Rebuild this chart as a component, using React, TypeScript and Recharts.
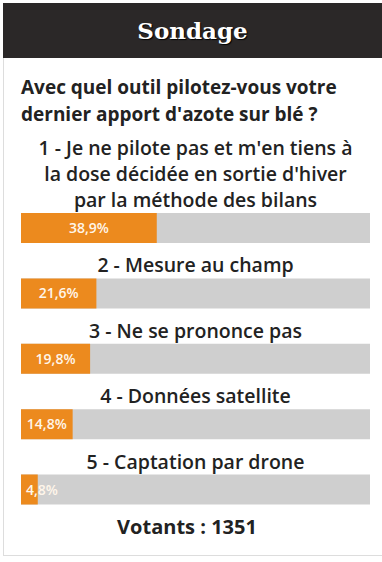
import { BarChart, Bar, XAxis, YAxis, LabelList } from "recharts";

const questionLines = [
  "Avec quel outil pilotez-vous votre",
  "dernier apport d'azote sur blé ?",
];

const optionLabels = [
  [
    "1 - Je ne pilote pas et m'en tiens à",
    "la dose décidée en sortie d'hiver",
    "par la méthode des bilans",
  ],
  ["2 - Mesure au champ"],
  ["3 - Ne se prononce pas"],
  ["4 - Données satellite"],
  ["5 - Captation par drone"],
];

const percentages = [38.9, 21.6, 19.8, 14.8, 4.8];
const voters = 1351;

const W = 382;
const H = 562;
const MARGIN = { top: 195, right: 12, bottom: 40, left: 21 };
const PLOT_W = W - MARGIN.left - MARGIN.right;
const FONT = "'Open Sans', sans-serif";

const data = percentages.map((v, i) => ({ name: optionLabels[i].join(" "), value: v, idx: i }));

const fmt = (v: number) => v.toFixed(1).replace(".", ",") + "%";

function OptionText(props: any) {
  const { y, index } = props;
  const lines = optionLabels[index];
  const cx = MARGIN.left + PLOT_W / 2;
  const lh = 26;
  return (
    <g>
      {lines.map((l, k) => (
        <text
          key={k}
          x={cx}
          y={y - 6 - (lines.length - 1 - k) * lh}
          textAnchor="middle"
          fontFamily={FONT}
          fontSize={19.5}
          fontWeight={600}
          fill="#222"
        >
          {l}
        </text>
      ))}
    </g>
  );
}

function PctText(props: any) {
  const { x, y, width, height, value } = props;
  const half = 21;
  const cx = Math.max(x + width / 2, x + half);
  return (
    <text
      x={cx}
      y={y + height / 2 + 5}
      textAnchor="middle"
      fontFamily={FONT}
      fontSize={14}
      fontWeight={600}
      fill="#fff6ea"
    >
      {fmt(value)}
    </text>
  );
}

export default function App() {
  return (
    <div
      style={{
        position: "absolute",
        left: 0,
        top: 0,
        width: W,
        height: H,
        background: "#fff",
        fontFamily: FONT,
        overflow: "hidden",
      }}
    >
      <div
        style={{
          position: "absolute",
          left: 3,
          top: 3,
          width: W - 3,
          height: 55,
          background: "#2b2828",
          color: "#fff",
          fontFamily: "'DejaVu Serif', serif",
          fontWeight: 700,
          fontSize: 23,
          lineHeight: "55px",
          textAlign: "center",
          textShadow: "1px 1px 1px #000",
        }}
      >
        Sondage
      </div>
      <div
        style={{
          position: "absolute",
          left: 3,
          top: 58,
          width: W - 4,
          height: 497,
          borderLeft: "1px solid #ddd",
          borderBottom: "1px solid #ddd",
        }}
      />
      <div
        style={{
          position: "absolute",
          left: 21,
          top: 74,
          fontSize: 19,
          fontWeight: 700,
          lineHeight: "27px",
          color: "#222",
          whiteSpace: "nowrap",
        }}
      >
        {questionLines.map((l) => (
          <div key={l}>{l}</div>
        ))}
      </div>
      <div style={{ position: "absolute", left: 0, top: 0 }}>
        <BarChart
          width={W}
          height={H}
          data={data}
          layout="vertical"
          margin={MARGIN}
        >
          <XAxis type="number" domain={[0, 100]} hide />
          <YAxis type="category" dataKey="name" hide />
          <Bar
            dataKey="value"
            fill="#ec8a1e"
            barSize={30}
            background={{ fill: "#cfcfcf" }}
            isAnimationActive={false}
          >
            <LabelList dataKey="value" content={<OptionText />} />
            <LabelList dataKey="value" content={<PctText />} />
          </Bar>
        </BarChart>
      </div>
      <div
        style={{
          position: "absolute",
          left: 0,
          width: W - 8,
          top: 513,
          textAlign: "center",
          fontSize: 20,
          fontWeight: 700,
          color: "#222",
          lineHeight: "28px",
        }}
      >
        Votants : {voters}
      </div>
    </div>
  );
}
